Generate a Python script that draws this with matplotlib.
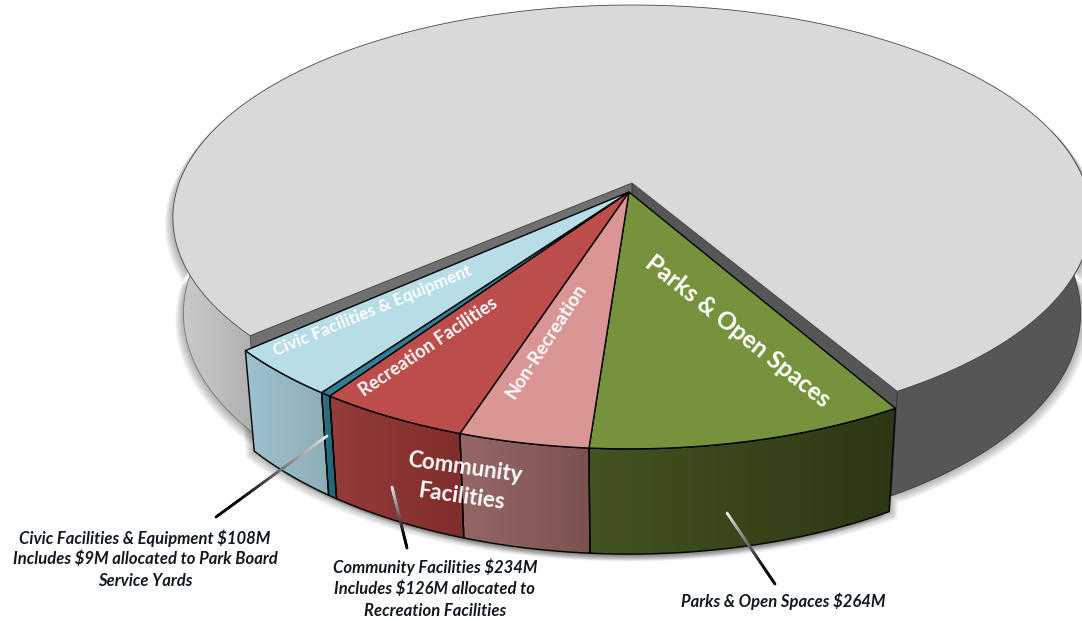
import numpy as np
import matplotlib
matplotlib.use("Agg")
import matplotlib.pyplot as plt
from matplotlib.collections import LineCollection
from matplotlib.colors import LinearSegmentedColormap, to_rgba
from matplotlib.patches import Polygon

# capital plan allocation, $M
slice_names = ["Parks & Open Spaces", "Non-Recreation", "Recreation Facilities",
               "Service Yards", "Civic Facilities & Equipment"]
slice_values = [264, 108, 126, 9, 99]
other_value = 2155

top_colors = ["#76923c", "#d99694", "#bd4d4a", "#2f7f98", "#b7dde6"]
side_left = ["#445420", "#966766", "#943c39", "#2b7288", "#9dc1cf"]
side_right = ["#2c3715", "#7c5251", "#7f2e2d", "#236377", "#8eaeb7"]

plt.rcParams["font.family"] = ["Lato", "DejaVu Sans"]

FIRST_ANGLE = -59.8
TILT = 0.163


def project(theta, cx, cy, a, b, drop=0.0, shrink=1.0):
    # circle on the pie plane -> pixel position, front of the pie drawn larger
    t = np.radians(theta)
    w = 1 + TILT * np.sin(t)
    return np.column_stack([cx + b * shrink * np.cos(t) / w,
                            cy + (drop - a * shrink * np.sin(t)) / w])


def gradient_fill(ax, pts, stops, zorder):
    patch = Polygon(pts, closed=True, facecolor="none", edgecolor="none", zorder=zorder)
    ax.add_patch(patch)
    x0, x1 = pts[:, 0].min(), pts[:, 0].max()
    y0, y1 = pts[:, 1].min(), pts[:, 1].max()
    cmap = LinearSegmentedColormap.from_list("side", stops)
    im = ax.imshow(np.linspace(0, 1, 256)[None, :], extent=[x0, x1, y1, y0], aspect="auto",
                   cmap=cmap, vmin=0, vmax=1, interpolation="bilinear", zorder=zorder)
    im.set_clip_path(patch)


def shadow(ax, pts, dx=0.9, zorder=1):
    for i in range(1, 10):
        ax.add_patch(Polygon(pts + [i * dx, i * 0.8], closed=True, facecolor="black",
                             alpha=0.035, edgecolor="none", zorder=zorder))


def leader(ax, start, end, lw=2.0):
    # line fading from pale at the slice to black at the label
    t = np.linspace(0, 1, 60)
    xy = np.column_stack([start[0] + (end[0] - start[0]) * t, start[1] + (end[1] - start[1]) * t])
    segs = np.stack([xy[:-1], xy[1:]], axis=1)
    pale = np.array(to_rgba("#e8e8e8"))
    dark = np.array(to_rgba("#000000"))
    cols = [pale + (dark - pale) * min(v * 1.25, 1) for v in t[:-1]]
    ax.add_collection(LineCollection(segs, colors=cols, linewidths=lw, zorder=10, capstyle="round"))


fig = plt.figure(figsize=(10.82, 6.21), dpi=100)
ax = fig.add_axes([0, 0, 1, 1])
ax.set_xlim(0, 1082)
ax.set_ylim(621, 0)
ax.axis("off")

total = sum(slice_values) + other_value
sweeps = [v / total * 360 for v in slice_values]
edges = FIRST_ANGLE - np.concatenate([[0], np.cumsum(sweeps)])
other_sweep = other_value / total * 360

# main body of the pie, the remainder of the plan
body = dict(cx=632, cy=183, a=207, b=453)
body_low = dict(body, drop=94, shrink=0.977)
body_apex = np.array([[body["cx"], body["cy"]]])
body_angles = np.linspace(FIRST_ANGLE, FIRST_ANGLE + other_sweep, 400)
body_top = project(body_angles, **body)

wall_r = np.linspace(FIRST_ANGLE, 15, 120)
wall_l = np.linspace(edges[-1], edges[-1] - 60, 120)
wall_r_pts = np.vstack([project(wall_r, **body), project(wall_r, **body_low)[::-1]])
wall_l_pts = np.vstack([project(wall_l, **body), project(wall_l, **body_low)[::-1]])

shadow(ax, wall_r_pts)
shadow(ax, wall_l_pts, dx=-0.9)
gradient_fill(ax, wall_l_pts, ["#cbcbcb", "#bfbfbf", "#acacac"], 2)
ax.add_patch(Polygon(wall_r_pts, closed=True, facecolor="#565656", edgecolor="#3c3c3c", lw=0.6, zorder=2))
ax.plot(*project(wall_l, **body_low).T, color="#777777", lw=0.6, zorder=2.1)

# cut faces left open where the slices were pulled out
for ang, col in [(FIRST_ANGLE, "#565656"), (edges[-1], "#707070")]:
    a0 = project(np.array([ang]), **body)
    a1 = project(np.array([ang]), **body_low)
    centre_low = np.array([[body["cx"], body["cy"] + 94]])
    ax.add_patch(Polygon(np.vstack([body_apex, a0, a1, centre_low]), closed=True,
                         facecolor=col, edgecolor="#333333", lw=0.5, zorder=3))

ax.add_patch(Polygon(np.vstack([body_apex, body_top]), closed=True, facecolor="#d9d9d9",
                     edgecolor="#4a4a4a", lw=0.6, zorder=4))

# pulled-out slices
wedge = dict(cx=629, cy=192, a=215, b=455)
wedge_low = dict(wedge, drop=93, shrink=0.977)
wedge_apex = np.array([[wedge["cx"], wedge["cy"]]])
outer = np.linspace(edges[-1], edges[0], 200)
wedge_outline = np.vstack([project(outer, **wedge), project(outer, **wedge_low)[::-1]])
shadow(ax, wedge_outline, dx=0.9)
shadow(ax, wedge_outline, dx=-0.9)

for i in range(len(slice_values)):
    ang = np.linspace(edges[i], edges[i + 1], 60)
    rim = project(ang, **wedge)
    low = project(ang, **wedge_low)
    side = np.vstack([rim, low[::-1]])
    gradient_fill(ax, side, [side_left[i], side_right[i]], 5)
    ax.add_patch(Polygon(side, closed=True, facecolor="none", edgecolor="black", lw=1.0, zorder=6))
    ax.add_patch(Polygon(np.vstack([wedge_apex, rim]), closed=True, facecolor=top_colors[i],
                         edgecolor="black", lw=1.0, zorder=6))

# labels on the slices
inner_font = dict(color="white", ha="center", va="center", rotation_mode="anchor", zorder=12)
ax.text(738, 331, slice_names[0], fontsize=17.4, fontweight="bold", rotation=-38.5, **inner_font)
ax.text(546, 341, slice_names[1], fontsize=13.4, fontweight="bold", rotation=57, **inner_font)
ax.text(428, 347, slice_names[2], fontsize=13, fontweight="bold", rotation=34, **inner_font)
ax.text(372, 311, slice_names[4], fontsize=12.3, fontweight="bold", rotation=22.5, **inner_font)
ax.text(465, 468, "Community", fontsize=16, fontweight="bold", rotation=-8, **inner_font)
ax.text(461, 497, "Facilities", fontsize=16, fontweight="bold", rotation=-8, **inner_font)

# call-outs
leader(ax, (327, 436), (216, 517))
leader(ax, (392, 487), (407, 548))
leader(ax, (727, 513), (775, 584))

note_font = dict(color="#101820", ha="center", va="center", fontsize=12,
                 fontweight="bold", fontstyle="italic", zorder=12)
ax.text(145, 538, "Civic Facilities & Equipment $108M", **note_font)
ax.text(145, 559, "Includes $9M allocated to Park Board", **note_font)
ax.text(145, 581, "Service Yards", **note_font)
ax.text(435, 567, "Community Facilities $234M", **note_font)
ax.text(435, 589, "Includes $126M allocated to", **note_font)
ax.text(435, 611, "Recreation Facilities", **note_font)
ax.text(783, 601, "Parks & Open Spaces $264M", **note_font)

ax.set_xlim(0, 1082)
ax.set_ylim(621, 0)
fig.savefig("out.png", dpi=100, facecolor="white")
